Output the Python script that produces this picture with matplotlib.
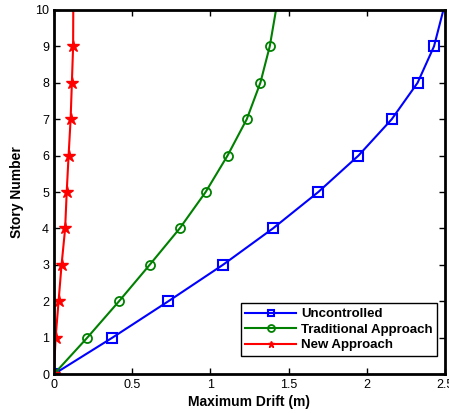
import matplotlib
matplotlib.use("Agg")
import matplotlib.pyplot as plt

plt.rcParams['font.family'] = ['Liberation Sans', 'DejaVu Sans']

stories = [0, 1, 2, 3, 4, 5, 6, 7, 8, 9, 10]
uncontrolled = [0, 0.373, 0.731, 1.08, 1.40, 1.69, 1.947, 2.16, 2.325, 2.43, 2.49]
traditional = [0, 0.213, 0.416, 0.612, 0.804, 0.97, 1.11, 1.233, 1.32, 1.38, 1.42]
new_approach = [0, 0.011, 0.03, 0.049, 0.072, 0.082, 0.094, 0.107, 0.115, 0.123, 0.124]

fig = plt.figure(figsize=(4.49, 4.13), dpi=100)
ax = fig.add_axes([0.120, 0.094, 0.871, 0.882])

marks = slice(0, 10)
ax.plot(uncontrolled, stories, color='blue', marker='s', markersize=6.5, mfc='none',
        mew=1.5, lw=1.5, markevery=marks, label='Uncontrolled')
ax.plot(traditional, stories, color='green', marker='o', markersize=6.5, mfc='none',
        mew=1.3, lw=1.5, markevery=marks, label='Traditional Approach')
ax.plot(new_approach, stories, color='red', marker='*', markersize=9,
        lw=1.5, markevery=marks, label='New Approach')

ax.set_xlim(0, 2.5)
ax.set_ylim(0, 10)
ax.set_xticks([0, 0.5, 1, 1.5, 2, 2.5])
ax.set_xticklabels(['0', '0.5', '1', '1.5', '2', '2.5'])
ax.set_yticks(range(11))
ax.tick_params(direction='in', top=True, right=True, labelsize=9, length=4, width=1)
for s in ax.spines.values():
    s.set_linewidth(2)

ax.set_xlabel('Maximum Drift (m)', fontsize=10, fontweight='bold', labelpad=3)
ax.set_ylabel('Story Number', fontsize=10, fontweight='bold', labelpad=8)

leg = ax.legend(loc='lower right', bbox_to_anchor=(0.98, 0.05), fancybox=False,
                edgecolor='black', framealpha=1, prop={'weight': 'bold', 'size': 9.5},
                handlelength=3.8, handletextpad=0.4, borderpad=0.35,
                labelspacing=0.25, borderaxespad=0)
leg.get_frame().set_linewidth(1)
for h in leg.legend_handles:
    h.set_markersize(5)

fig.savefig('out.png', dpi=100)
